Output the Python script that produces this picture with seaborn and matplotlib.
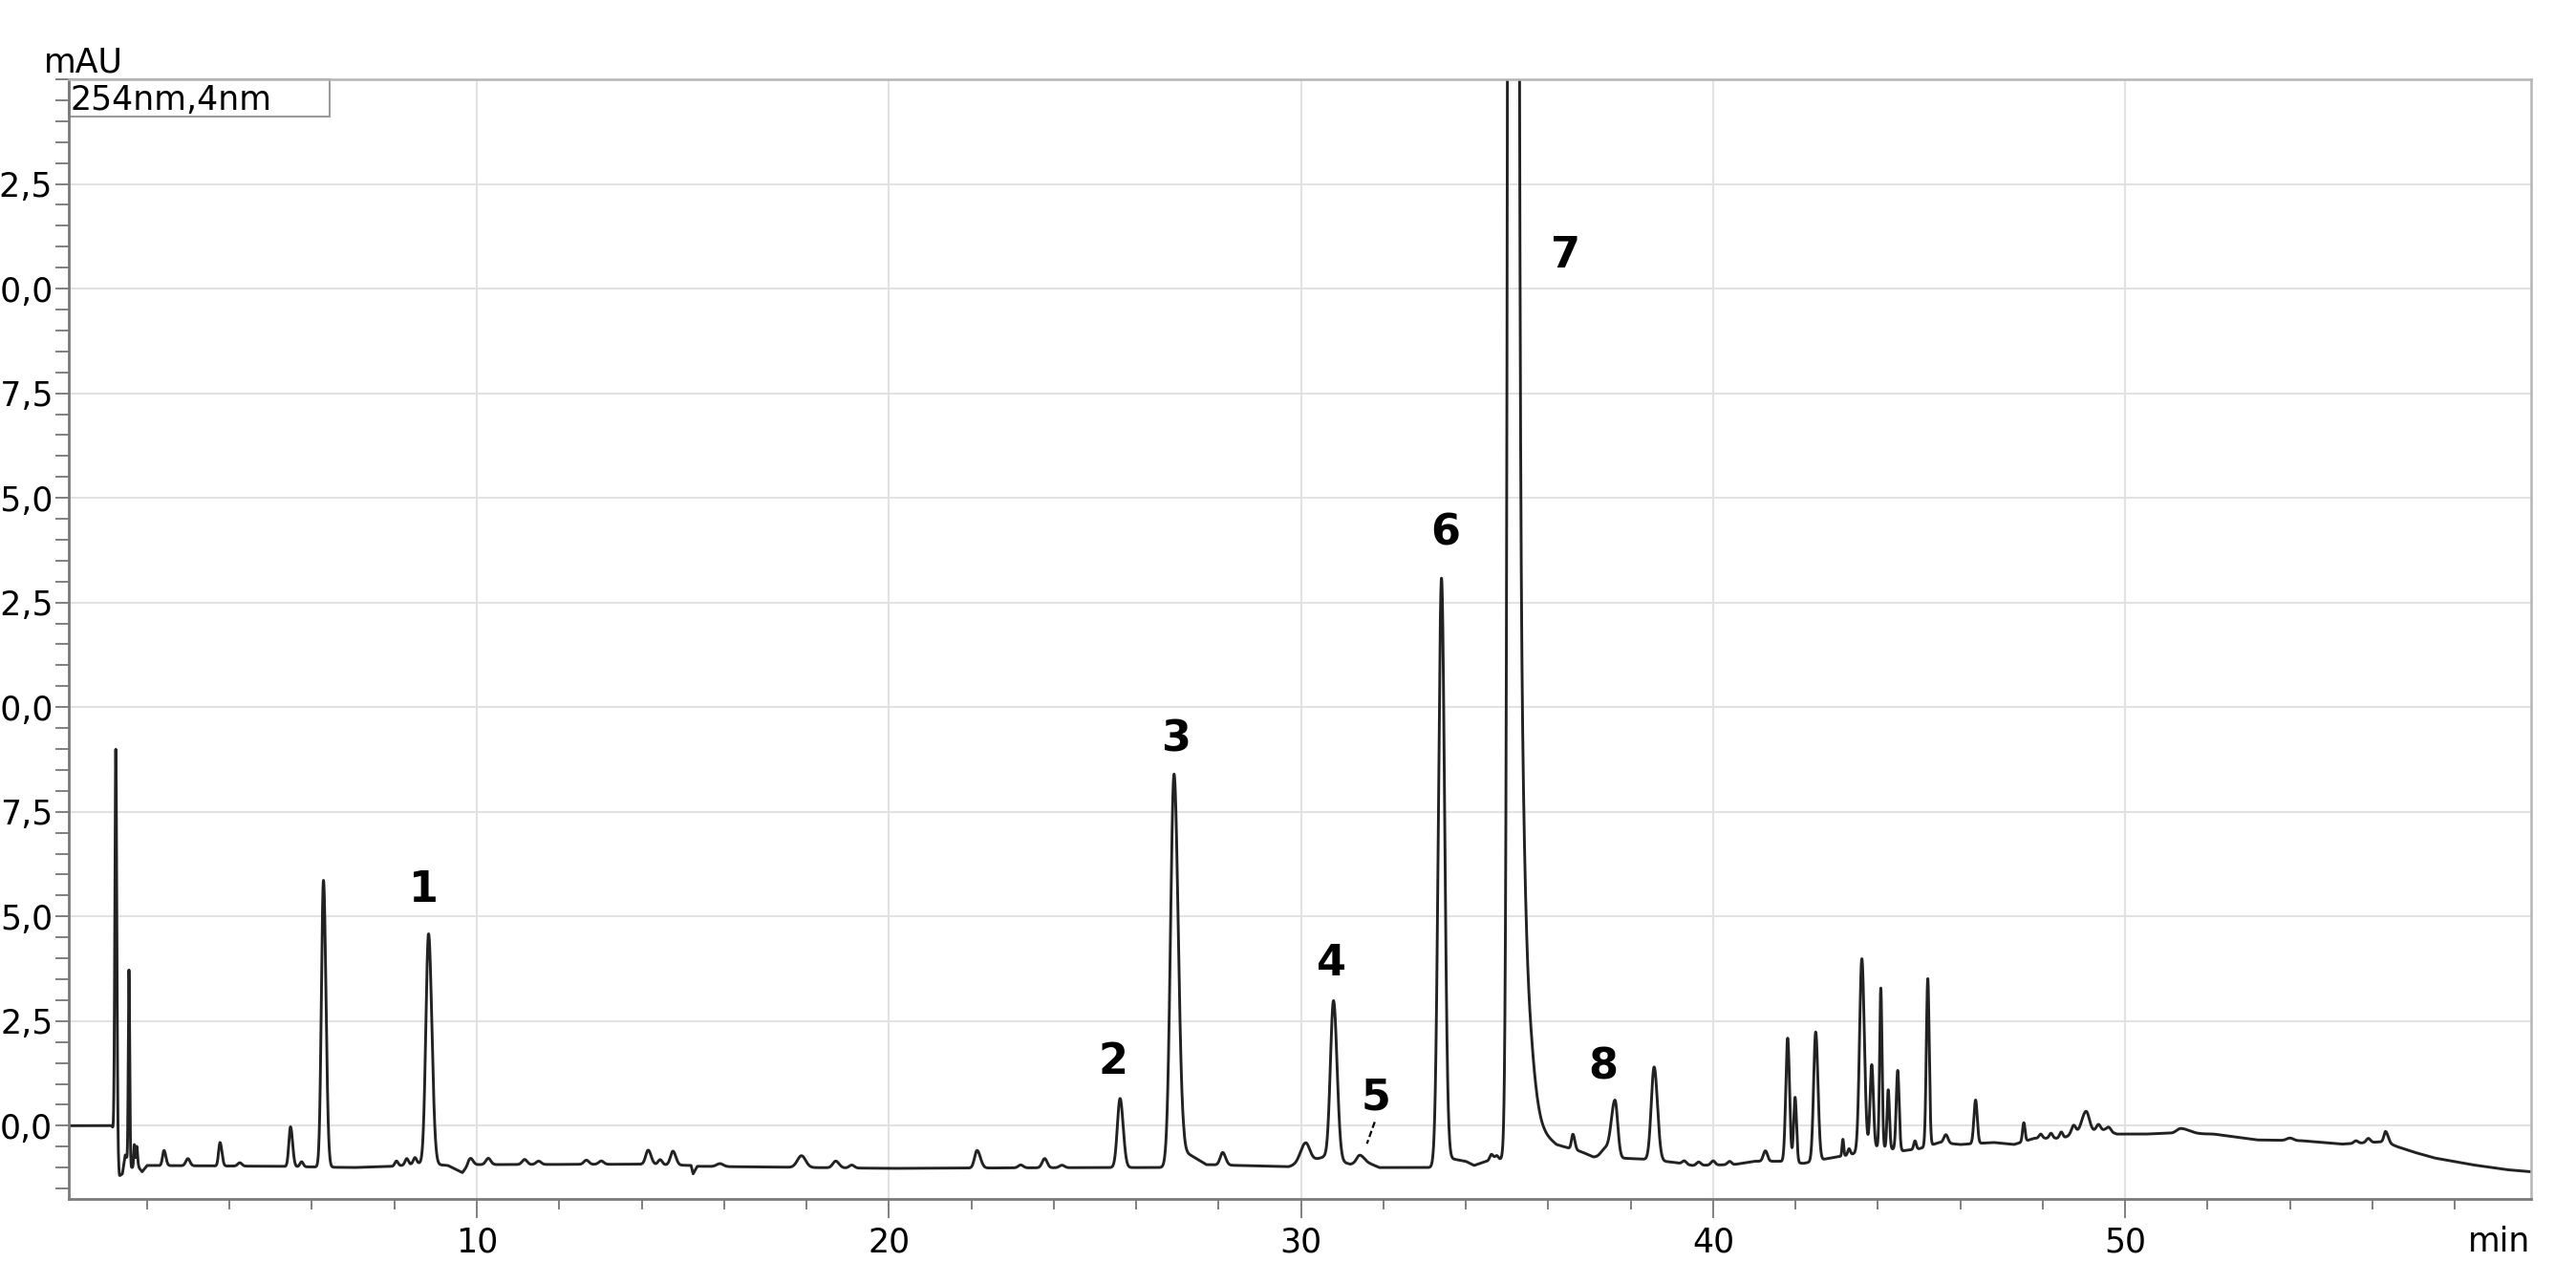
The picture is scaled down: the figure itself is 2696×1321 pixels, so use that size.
import numpy as np
import pandas as pd
import matplotlib
matplotlib.use("Agg")
import matplotlib.pyplot as plt
from matplotlib.ticker import MultipleLocator, FixedLocator, FuncFormatter
from matplotlib.patches import Rectangle
import seaborn as sns

# ---- detector baseline (time in min, signal in mAU) ----
base_t = [0.10, 1.15, 1.20, 1.33, 1.40, 1.47, 1.62, 1.80, 1.88, 2.00, 5.00, 7.00,
          8.00, 8.60, 9.30, 9.65, 9.80, 14.00, 15.20, 15.25, 15.35, 20.00, 25.00,
          26.95, 27.15, 27.35, 27.70, 29.70, 30.55, 31.20, 31.55, 31.90, 33.30,
          33.60, 34.00, 34.20, 34.50, 34.90, 35.60, 35.90, 36.20, 36.80, 37.10,
          37.90, 38.30, 39.00, 39.50, 40.50, 41.00, 41.60, 42.20, 42.80, 43.30,
          44.00, 44.60, 45.00, 45.50, 46.00, 46.80, 47.30, 47.80, 48.50, 48.70,
          49.50, 49.80, 50.50, 51.00, 52.15, 53.20, 54.30, 55.26, 56.30, 56.60,
          57.00, 57.50, 58.40, 59.25, 59.85]
base_v = [0.00, 0.00, -0.20, -1.20, -1.15, -0.70, -1.00, -1.00, -1.10, -0.95, -0.97, -1.00,
          -0.97, -0.90, -0.95, -1.12, -0.93, -0.92, -0.95, -1.15, -0.97, -1.02, -1.00,
          -1.00, -0.62, -0.72, -0.93, -0.98, -0.75, -0.92, -0.85, -1.00, -1.00,
          -0.78, -0.85, -0.95, -0.85, -0.80, 0.00, -0.20, -0.45, -0.62, -0.75,
          -0.78, -0.80, -0.87, -0.95, -0.93, -0.85, -0.85, -0.90, -0.78, -0.70,
          -0.50, -0.60, -0.55, -0.40, -0.45, -0.40, -0.45, -0.30, -0.30, -0.20,
          -0.10, -0.20, -0.20, -0.18, -0.20, -0.34, -0.36, -0.44, -0.38, -0.50,
          -0.63, -0.77, -0.93, -1.05, -1.10]

# ---- peak table: retention time, height above baseline, left / right width ----
peak_rt = [1.24, 1.56, 1.69, 1.75, 2.41, 2.99, 3.77, 4.25, 5.48, 5.75, 6.28,
           8.05, 8.30, 8.50, 8.83, 9.85, 10.28, 11.16, 11.50, 12.66, 13.02,
           14.16, 14.45, 14.76, 15.90, 17.88, 18.71, 19.10, 22.14, 23.20, 23.78,
           24.20, 25.61, 26.92, 28.10, 30.11, 30.79, 31.42, 33.41, 34.62, 34.75,
           35.15, 35.22, 35.32, 36.60, 37.38, 37.62, 38.57, 39.30, 39.65, 40.00, 40.40,
           41.27, 41.81, 41.99, 42.49, 43.15, 43.30, 43.61, 43.85, 44.07, 44.25,
           44.48, 44.90, 45.21, 45.65, 46.37, 47.54, 47.95, 48.20, 48.45, 48.75,
           49.05, 49.35, 49.60, 51.35, 54.00, 55.60, 55.90, 56.32]
peak_height = [9.50, 4.60, 0.55, 0.50, 0.36, 0.17, 0.56, 0.08, 0.95, 0.12, 6.85,
               0.12, 0.15, 0.15, 5.50, 0.15, 0.15, 0.12, 0.08, 0.10, 0.08,
               0.34, 0.12, 0.33, 0.07, 0.28, 0.16, 0.07, 0.42, 0.07, 0.22,
               0.06, 1.65, 9.40, 0.30, 0.46, 3.80, 0.17, 14.00, 0.15, 0.10,
               178.0, 12.0, 4.50, 0.36, 0.20, 1.37, 2.23, 0.08, 0.08, 0.10, 0.08,
               0.25, 2.96, 1.56, 3.08, 0.40, 0.15, 4.60, 2.00, 3.80, 1.40,
               1.90, 0.20, 4.00, 0.20, 1.04, 0.45, 0.10, 0.12, 0.15, 0.20,
               0.50, 0.15, 0.10, 0.12, 0.06, 0.06, 0.10, 0.25]
peak_sigma_left = [0.022, 0.016, 0.015, 0.015, 0.035, 0.05, 0.035, 0.05, 0.04, 0.04, 0.05,
                   0.04, 0.04, 0.04, 0.065, 0.05, 0.06, 0.06, 0.06, 0.06, 0.06,
                   0.06, 0.05, 0.06, 0.08, 0.10, 0.07, 0.06, 0.06, 0.06, 0.06,
                   0.06, 0.065, 0.085, 0.06, 0.12, 0.075, 0.07, 0.075, 0.04, 0.04,
                   0.0715, 0.05, 0.05, 0.035, 0.10, 0.09, 0.07, 0.05, 0.05, 0.05, 0.05,
                   0.05, 0.045, 0.035, 0.05, 0.02, 0.03, 0.055, 0.04, 0.028, 0.028,
                   0.035, 0.03, 0.035, 0.05, 0.04, 0.03, 0.04, 0.04, 0.04, 0.05,
                   0.10, 0.05, 0.05, 0.10, 0.08, 0.05, 0.05, 0.04]
peak_sigma_right = [0.025, 0.018, 0.02, 0.02, 0.045, 0.05, 0.045, 0.05, 0.05, 0.04, 0.06,
                    0.04, 0.04, 0.04, 0.08, 0.06, 0.06, 0.06, 0.06, 0.06, 0.06,
                    0.07, 0.05, 0.07, 0.08, 0.10, 0.08, 0.06, 0.08, 0.06, 0.06,
                    0.06, 0.075, 0.10, 0.07, 0.10, 0.085, 0.09, 0.075, 0.05, 0.04,
                    0.066, 0.12, 0.22, 0.045, 0.10, 0.065, 0.08, 0.05, 0.05, 0.05, 0.05,
                    0.05, 0.045, 0.035, 0.055, 0.02, 0.03, 0.06, 0.04, 0.03, 0.03,
                    0.035, 0.03, 0.035, 0.05, 0.04, 0.03, 0.04, 0.04, 0.04, 0.05,
                    0.08, 0.05, 0.05, 0.20, 0.08, 0.05, 0.05, 0.06]

# ---- numbered compounds ----
label_text = ["1", "2", "3", "4", "5", "6", "7", "8"]
label_t = [8.72, 25.45, 26.97, 30.75, 31.83, 33.50, 36.41, 37.33]
label_v = [5.64, 1.53, 9.23, 3.87, 0.67, 14.16, 20.80, 1.40]
pointer_t = [31.79, 31.60]
pointer_v = [0.09, -0.43]

xtick_values = [10, 20, 30, 40, 50]
ytick_values = [0.0, 2.5, 5.0, 7.5, 10.0, 12.5, 15.0, 17.5, 20.0, 22.5]
channel_text = "254nm,4nm"

# ---- build the trace ----
t = np.arange(0.10, 59.85, 0.002)
signal = np.interp(t, base_t, base_v)
for rt, h, sl, sr in zip(peak_rt, peak_height, peak_sigma_left, peak_sigma_right):
    s = np.where(t < rt, sl, sr)
    signal = signal + h * np.exp(-0.5 * ((t - rt) / s) ** 2)
trace = pd.DataFrame({"time": t, "mAU": signal})

sns.set_theme(style="white")
plt.rcParams["font.family"] = ["DejaVu Sans"]

W, H = 2696, 1321
fig = plt.figure(figsize=(W / 100, H / 100), dpi=100)
ax = fig.add_axes([72 / W, 66 / H, (2649 - 72) / W, (1255 - 83) / H])

sns.lineplot(data=trace, x="time", y="mAU", ax=ax, color="#222222",
             linewidth=2.1, estimator=None, sort=False)

ax.set_xlim(0.10, 59.85)
ax.set_ylim(-1.75, 25.0)
ax.set_xlabel("")
ax.set_ylabel("")

ax.xaxis.set_major_locator(FixedLocator(xtick_values))
ax.xaxis.set_minor_locator(MultipleLocator(2))
ax.yaxis.set_major_locator(FixedLocator(ytick_values))
ax.yaxis.set_minor_locator(MultipleLocator(0.5))
ax.yaxis.set_major_formatter(FuncFormatter(lambda v, p: f"{v:.1f}".replace(".", ",")))
ax.xaxis.set_major_formatter(FuncFormatter(lambda v, p: f"{v:.0f}"))

ax.grid(True, which="major", color="#e2e2e2", linewidth=1.5)
ax.set_axisbelow(True)

ax.tick_params(axis="y", which="both", direction="out", length=10, width=1.4,
               color="#808080", pad=2, labelsize=25, labelcolor="black", left=True)
ax.tick_params(axis="x", which="major", direction="out", length=14.5, width=1.4,
               color="#808080", pad=6, labelsize=25, labelcolor="black", bottom=True)
ax.tick_params(axis="x", which="minor", direction="out", length=8, width=1.4,
               color="#808080", bottom=True)

for side in ["left", "bottom"]:
    ax.spines[side].set_color("#7a7a7a")
    ax.spines[side].set_linewidth(2.0)
for side in ["top", "right"]:
    ax.spines[side].set_color("#b5b5b5")
    ax.spines[side].set_linewidth(1.8)

# compound numbers
for s, x, y in zip(label_text, label_t, label_v):
    ax.text(x, y, s, ha="center", va="center", fontsize=32, fontweight="bold",
            color="black")
ax.plot(pointer_t, pointer_v, color="black", linewidth=1.6, linestyle=(0, (3, 1.5)))

# channel box
ax.add_patch(Rectangle((0.0, 0.9667), 0.106, 0.0333, transform=ax.transAxes,
                       fill=False, edgecolor="#9a9a9a", linewidth=1.5, clip_on=False))
ax.text(0.0006, 0.9727, channel_text, transform=ax.transAxes, ha="left",
        va="baseline", fontsize=25, color="black")

fig.text(46 / W, (H - 76) / H, "mAU", ha="left", va="baseline", fontsize=25, color="black")
fig.text(2648 / W, (H - 1310) / H, "min", ha="right", va="baseline", fontsize=25, color="black")

fig.savefig("out.png", dpi=100, facecolor="white")
